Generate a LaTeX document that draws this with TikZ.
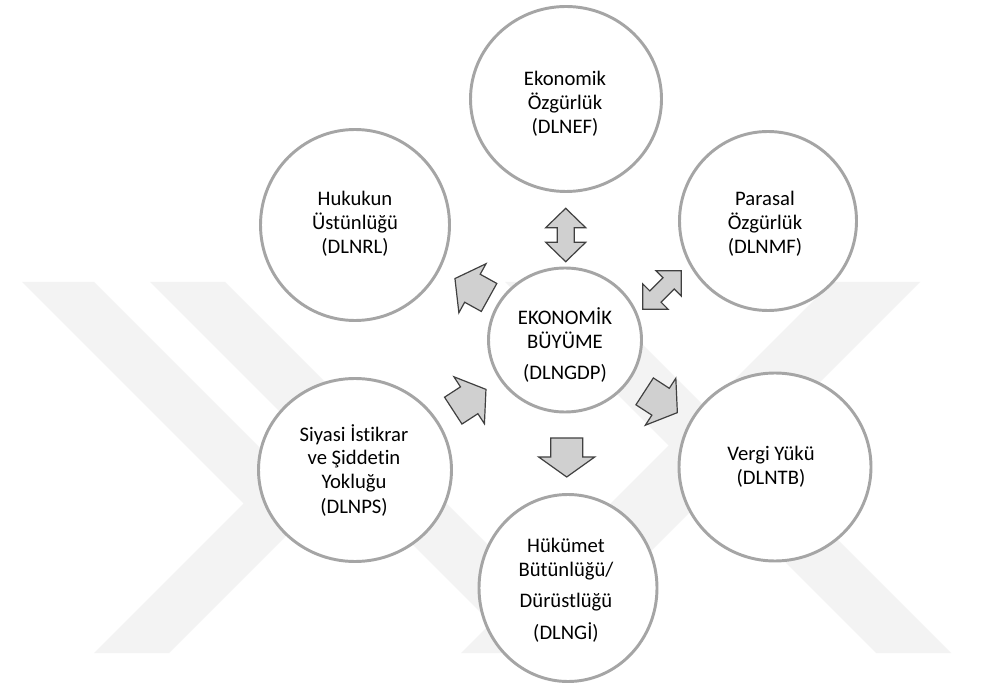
\documentclass[tikz,border=0pt]{standalone}
\usepackage{fontspec}
\setmainfont{Carlito}[Ligatures={NoCommon,NoContextual}]
\usetikzlibrary{shapes.geometric}
\definecolor{ringgray}{HTML}{A5A5A5}
\definecolor{arrowfill}{HTML}{D0D0D0}
\definecolor{arrowline}{HTML}{404040}
\definecolor{wmgray}{HTML}{F3F3F3}
\tikzset{
  ringnode/.style 2 args={ellipse, draw=ringgray, line width=2.2pt, fill=white, inner sep=0pt,
    minimum width=#1*0.75pt, minimum height=#2*0.75pt},
  txt/.style={align=center, font=\fontsize{15.5}{18}\selectfont, inner sep=0pt, text=black},
  blockarrow/.style={fill=arrowfill, draw=arrowline, line width=0.9pt, line join=miter},
  wmband/.style={fill=wmgray, draw=none},
  onearrow/.pic={\path[blockarrow] (-19.5,-16) -- (-0.5,-16) -- (-0.5,-28) -- (19.5,0)
      -- (-0.5,28) -- (-0.5,16) -- (-19.5,16) -- cycle;},
  twoarrowv/.pic={\path[blockarrow] (-26.7,0) -- (-7.3,-20) -- (-7.3,-8.5) -- (7.3,-8.5)
      -- (7.3,-20) -- (26.7,0) -- (7.3,20) -- (7.3,8.5) -- (-7.3,8.5) -- (-7.3,20) -- cycle;},
  twoarrowd/.pic={\path[blockarrow] (-27.3,0) -- (-9.3,-18) -- (-9.3,-8) -- (9.3,-8)
      -- (9.3,-18) -- (27.3,0) -- (9.3,18) -- (9.3,8) -- (-9.3,8) -- (-9.3,18) -- cycle;}
}
\begin{document}
\begin{tikzpicture}[x=0.75pt,y=-0.75pt]
\path[use as bounding box, fill=white] (0,0) rectangle (981,691);
% faint watermark
\path[wmband] (22,282) -- (94,282) -- (317,505) -- (169,653) -- (94,653) -- (243.5,503.5) -- cycle;
\path[wmband] (150,282) -- (225,282) -- (596,653) -- (521,653) -- cycle;
\path[wmband] (832,282) -- (920,282) -- (549,653) -- (461,653) -- cycle;
\path[wmband] (505,282) -- (580,282) -- (951,653) -- (876,653) -- cycle;

% circles
\node[ringnode={153}{144}] (gdp) at (565,340) {};
\node[ringnode={191}{185}] (ef) at (566,99) {};
\node[ringnode={189}{191}] (rl) at (355,225) {};
\node[ringnode={177}{179}] (mf) at (768,221) {};
\node[ringnode={192}{188}] (tb) at (775,467) {};
\node[ringnode={193}{183}] (ps) at (355,470) {};
\node[ringnode={178}{187}] (gi) at (568,588) {};

% texts
\node[txt] (gdpT) at (565,345) {EKONOMİK\\BÜYÜME\\[5.5pt](DLNGDP)};
\node[txt] (efT) at (565,104) {Ekonomik\\Özgürlük\\(DLNEF)};
\node[txt] (rlT) at (355,224) {Hukukun\\Üstünlüğü\\(DLNRL)};
\node[txt] (mfT) at (765,224) {Parasal\\Özgürlük\\(DLNMF)};
\node[txt] (tbT) at (771,467) {Vergi Yükü\\(DLNTB)};
\node[txt] (psT) at (354,470) {Siyasi İstikrar\\ve Şiddetin\\Yokluğu\\(DLNPS)};
\node[txt] (giT) at (566,590) {Hükümet\\Bütünlüğü/\\[5.5pt]Dürüstlüğü\\[5.5pt](DLNGİ)};

% arrows
\pic[rotate=90] (aEF) at (565.7,235) {twoarrowv};
\pic[rotate=45] (aMF) at (662,290) {twoarrowd};
\pic[rotate=151] (aRL) at (472,288) {onearrow};
\pic[rotate=33] (aPS) at (469.6,400) {onearrow};
\pic[rotate=-33] (aTB) at (661,402) {onearrow};
\pic[rotate=-90] (aGI) at (566.7,457.5) {onearrow};
\end{tikzpicture}
\end{document}
